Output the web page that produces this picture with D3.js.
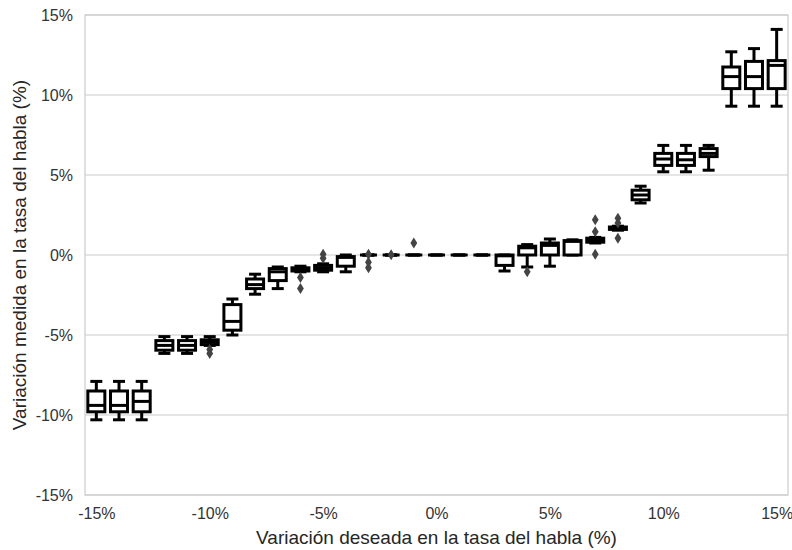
<!DOCTYPE html>
<html>
<head>
<meta charset="utf-8">
<script src="https://cdn.jsdelivr.net/npm/d3@7"></script>
<style>
  html, body { margin: 0; padding: 0; background: #fff; }
  svg { display: block; }
  text { font-family: "Liberation Sans", Arial, sans-serif; fill: #262626; }
</style>
</head>
<body>
<svg id="chart" width="792" height="550"></svg>
<script>
// ---- Data (values in %) ----
const desired     = [-15,-14,-13,-12,-11,-10,-9,-8,-7,-6,-5,-4,-3,-2,-1,0,1,2,3,4,5,6,7,8,9,10,11,12,13,14,15];
const whiskerLow  = [-10.3,-10.3,-10.3,-6.15,-6.15,-5.65,-5.0,-2.45,-2.1,-1.05,-1.05,-1.05,0,0,0,0,0,0,-1.0,-0.75,-0.7,0.0,0.75,1.55,3.25,5.2,5.2,5.3,9.3,9.3,9.3];
const q1          = [-9.8,-9.8,-9.8,-5.95,-5.95,-5.6,-4.7,-2.1,-1.6,-1.0,-0.95,-0.7,0,0,0,0,0,0,-0.65,0.0,0.0,0.0,0.8,1.6,3.45,5.6,5.6,6.15,10.4,10.4,10.4];
const medians     = [-9.4,-9.4,-9.15,-5.65,-5.65,-5.45,-4.15,-1.85,-1.05,-0.9,-0.8,-0.15,0,0,0,0,0,0,-0.05,0.45,0.6,0.85,0.95,1.65,3.75,6.0,5.95,6.35,11.15,11.15,11.85];
const q3          = [-8.5,-8.5,-8.5,-5.35,-5.35,-5.3,-3.1,-1.5,-0.85,-0.8,-0.65,-0.1,0,0,0,0,0,0,0,0.55,0.75,0.9,1.05,1.75,4.05,6.35,6.35,6.65,11.75,12.1,12.15];
const whiskerHigh = [-7.9,-7.9,-7.9,-5.1,-5.1,-5.1,-2.75,-1.2,-0.75,-0.7,-0.55,0.0,0,0,0,0,0,0,0,0.65,1.0,0.95,1.1,1.8,4.3,6.85,6.85,6.85,12.7,12.9,14.1];
const outlierX    = [-10,-10,-6,-6,-5,-5,-3,-3,-3,-2,-1,4,7,7,7,8,8,8];
const outlierY    = [-5.9,-6.15,-1.4,-2.1,0.05,-0.2,0.05,-0.45,-0.8,0.02,0.75,-1.05,2.2,1.45,0.05,2.3,2.0,1.05];
const xTicks      = [-15,-10,-5,0,5,10,15];
const yTicks      = [-15,-10,-5,0,5,10,15];
const xTitle = "Variación deseada en la tasa del habla (%)";
const yTitle = "Variación medida en la tasa del habla (%)";

// ---- Layout ----
const svg = d3.select("#chart");
const mLeft = 85, mRight = 788, mTop = 15, mBottom = 495;
const x = d3.scaleLinear().domain([-15.5, 15.5]).range([mLeft, mRight]);
const y = d3.scaleLinear().domain([-15, 15]).range([mBottom, mTop]);
const boxW = 17, capW = 12, lw = 3;
const grid = "#cccccc";

// gridlines (horizontal)
svg.append("g").selectAll("line").data(yTicks).join("line")
  .attr("x1", mLeft).attr("x2", mRight)
  .attr("y1", d => y(d)).attr("y2", d => y(d))
  .attr("stroke", grid).attr("stroke-width", 1.2);

// frame
svg.append("rect").attr("x", mLeft).attr("y", mTop)
  .attr("width", mRight - mLeft).attr("height", mBottom - mTop)
  .attr("fill", "none").attr("stroke", grid).attr("stroke-width", 1.2);

// axes (tick labels)
const yAxis = d3.axisLeft(y).tickValues(yTicks).tickSize(0).tickPadding(12).tickFormat(d => d + "%");
const gy = svg.append("g").attr("transform", `translate(${mLeft},0)`).call(yAxis);
gy.select(".domain").remove();
gy.selectAll("text").attr("font-size", 16).style("fill", "#333");

const xAxis = d3.axisBottom(x).tickValues(xTicks).tickSize(0).tickPadding(13).tickFormat(d => d + "%");
const gx = svg.append("g").attr("transform", `translate(0,${mBottom})`).call(xAxis);
gx.select(".domain").remove();
gx.selectAll("text").attr("font-size", 16).style("fill", "#333");

// boxes
const data = desired.map((d, i) => ({
  x: d, lo: whiskerLow[i], q1: q1[i], med: medians[i], q3: q3[i], hi: whiskerHigh[i]
}));
const g = svg.append("g").attr("stroke", "#000").attr("stroke-width", lw).attr("fill", "none");
data.forEach(d => {
  const cx = x(d.x);
  const b = g.append("g");
  b.append("line").attr("x1", cx).attr("x2", cx).attr("y1", y(d.q3)).attr("y2", y(d.hi));
  b.append("line").attr("x1", cx).attr("x2", cx).attr("y1", y(d.q1)).attr("y2", y(d.lo));
  b.append("line").attr("x1", cx - capW/2).attr("x2", cx + capW/2).attr("y1", y(d.hi)).attr("y2", y(d.hi));
  b.append("line").attr("x1", cx - capW/2).attr("x2", cx + capW/2).attr("y1", y(d.lo)).attr("y2", y(d.lo));
  b.append("rect").attr("x", cx - boxW/2).attr("width", boxW)
    .attr("y", y(d.q3)).attr("height", Math.max(0, y(d.q1) - y(d.q3)))
    .attr("fill", "#fff");
  b.append("line").attr("x1", cx - boxW/2).attr("x2", cx + boxW/2).attr("y1", y(d.med)).attr("y2", y(d.med));
});

// outliers (thin diamonds)
svg.append("g").selectAll("path").data(outlierX.map((d, i) => [d, outlierY[i]])).join("path")
  .attr("d", d => {
    const cx = x(d[0]), cy = y(d[1]);
    return `M${cx},${cy-5.5}L${cx+3.4},${cy}L${cx},${cy+5.5}L${cx-3.4},${cy}Z`;
  })
  .attr("fill", "#444");

// axis titles
svg.append("text").attr("x", (mLeft + mRight) / 2).attr("y", 544)
  .attr("text-anchor", "middle").attr("font-size", 19).text(xTitle);
svg.append("text").attr("transform", `translate(26,${(mTop + mBottom) / 2}) rotate(-90)`)
  .attr("text-anchor", "middle").attr("font-size", 19).text(yTitle);
</script>
</body>
</html>
